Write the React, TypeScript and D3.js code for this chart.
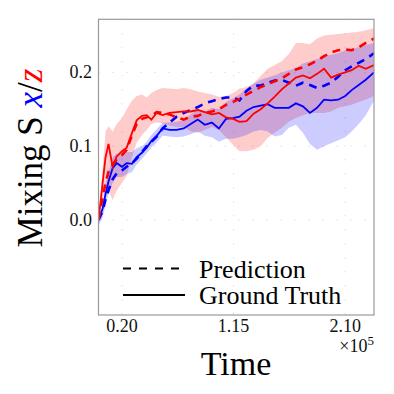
import * as d3 from 'd3';

// time in units of 1e5
const time = [0, 0.035, 0.06, 0.085, 0.12, 0.155, 0.2, 0.24, 0.285, 0.325, 0.37, 0.41, 0.45, 0.495, 0.545, 0.605, 0.665, 0.725, 0.785, 0.845, 0.905, 0.965, 1.025, 1.085, 1.145, 1.2, 1.26, 1.32, 1.38, 1.44, 1.5, 1.56, 1.62, 1.68, 1.74, 1.8, 1.86, 1.92, 1.98, 2.04, 2.1, 2.155, 2.215, 2.275, 2.345];

// z component (red)
const gtZ = [0, 0.05, 0.085, 0.103, 0.072, 0.086, 0.093, 0.098, 0.118, 0.135, 0.141, 0.142, 0.136, 0.145, 0.142, 0.145, 0.146, 0.147, 0.147, 0.149, 0.146, 0.143, 0.145, 0.139, 0.137, 0.133, 0.134, 0.144, 0.15, 0.158, 0.167, 0.177, 0.185, 0.193, 0.196, 0.192, 0.198, 0.205, 0.193, 0.197, 0.2, 0.203, 0.209, 0.205, 0.21];
const predZ = [0, 0.03, 0.05, 0.065, 0.075, 0.082, 0.088, 0.095, 0.115, 0.13, 0.137, 0.139, 0.141, 0.146, 0.145, 0.143, 0.139, 0.136, 0.14, 0.141, 0.145, 0.147, 0.15, 0.156, 0.16, 0.164, 0.17, 0.175, 0.18, 0.184, 0.188, 0.192, 0.198, 0.204, 0.207, 0.211, 0.216, 0.222, 0.227, 0.23, 0.231, 0.23, 0.234, 0.24, 0.246];
const zLow = [0, 0.03, 0.045, 0.04, 0.027, 0.04, 0.05, 0.06, 0.085, 0.105, 0.115, 0.122, 0.13, 0.132, 0.131, 0.128, 0.126, 0.126, 0.12, 0.118, 0.122, 0.126, 0.122, 0.112, 0.102, 0.093, 0.093, 0.095, 0.1, 0.111, 0.118, 0.125, 0.133, 0.138, 0.142, 0.145, 0.145, 0.145, 0.147, 0.152, 0.154, 0.156, 0.16, 0.163, 0.168];
const zHigh = [0, 0.07, 0.12, 0.127, 0.12, 0.13, 0.138, 0.15, 0.162, 0.168, 0.17, 0.166, 0.172, 0.176, 0.179, 0.178, 0.177, 0.179, 0.177, 0.174, 0.172, 0.17, 0.167, 0.168, 0.172, 0.178, 0.18, 0.185, 0.195, 0.205, 0.21, 0.215, 0.225, 0.24, 0.24, 0.238, 0.246, 0.25, 0.251, 0.252, 0.253, 0.254, 0.255, 0.257, 0.26];

// x component (blue)
const gtX = [0, 0.015, 0.035, 0.052, 0.07, 0.077, 0.072, 0.077, 0.076, 0.085, 0.091, 0.098, 0.107, 0.114, 0.124, 0.122, 0.122, 0.124, 0.13, 0.136, 0.129, 0.132, 0.124, 0.137, 0.138, 0.14, 0.148, 0.153, 0.155, 0.157, 0.152, 0.152, 0.152, 0.158, 0.154, 0.145, 0.152, 0.163, 0.162, 0.163, 0.168, 0.176, 0.183, 0.19, 0.2];
const predX = [0, 0.012, 0.028, 0.04, 0.055, 0.063, 0.067, 0.072, 0.077, 0.083, 0.092, 0.1, 0.106, 0.113, 0.124, 0.132, 0.14, 0.145, 0.149, 0.153, 0.158, 0.161, 0.164, 0.166, 0.166, 0.162, 0.175, 0.182, 0.182, 0.186, 0.189, 0.19, 0.186, 0.182, 0.186, 0.183, 0.179, 0.182, 0.186, 0.194, 0.203, 0.208, 0.213, 0.218, 0.226];
const xLow = [-0.008, 0.003, 0.02, 0.035, 0.05, 0.058, 0.058, 0.062, 0.065, 0.075, 0.083, 0.09, 0.098, 0.105, 0.114, 0.113, 0.112, 0.113, 0.116, 0.12, 0.114, 0.112, 0.106, 0.11, 0.11, 0.112, 0.115, 0.12, 0.122, 0.12, 0.113, 0.115, 0.125, 0.129, 0.118, 0.103, 0.095, 0.1, 0.104, 0.108, 0.112, 0.12, 0.13, 0.142, 0.162];
const xHigh = [0.008, 0.025, 0.048, 0.065, 0.085, 0.09, 0.087, 0.092, 0.092, 0.097, 0.1, 0.106, 0.115, 0.123, 0.132, 0.132, 0.133, 0.135, 0.143, 0.15, 0.147, 0.152, 0.15, 0.16, 0.165, 0.17, 0.178, 0.185, 0.19, 0.193, 0.196, 0.2, 0.203, 0.206, 0.212, 0.215, 0.218, 0.222, 0.224, 0.226, 0.23, 0.232, 0.234, 0.237, 0.24];

const xTicks = [0.2, 1.15, 2.1];
const yTicks = [0, 0.1, 0.2];

const RED = '#ff0000';
const BLUE = '#0000ff';
const FONT = '"Liberation Serif", "DejaVu Serif", serif';

export default function App() {
  const W = 394, H = 394;
  const left = 98.5, right = 374, top = 19.3, bottom = 315;

  const x = d3.scaleLinear().domain([0, 2.345]).range([left, right]);
  const y = d3.scaleLinear().domain([-0.129, 0.272]).range([bottom, top]);

  const line = (vals: number[]) =>
    d3.line<number>().x((_, i) => x(time[i])).y((d) => y(d))(vals) || '';
  const band = (lo: number[], hi: number[]) =>
    d3.area<number>().x((_, i) => x(time[i])).y0((_, i) => y(lo[i])).y1((_, i) => y(hi[i]))(lo) || '';

  const dash = '8,6';

  return (
    <svg width={W} height={H} style={{ position: 'absolute', left: 0, top: 0, background: '#fff' }} fontFamily={FONT}>
      <defs>
        <clipPath id="plot">
          <rect x={left} y={top} width={right - left} height={bottom - top} />
        </clipPath>
      </defs>

      {/* dotted grid */}
      {yTicks.map((t) => (
        <line key={'gy' + t} x1={left} x2={right} y1={y(t)} y2={y(t)} stroke="#cfcfcf" strokeWidth={1} strokeDasharray="1,13" />
      ))}
      {xTicks.map((t) => (
        <line key={'gx' + t} x1={x(t)} x2={x(t)} y1={top} y2={bottom} stroke="#cfcfcf" strokeWidth={1} strokeDasharray="1,13" />
      ))}

      <g clipPath="url(#plot)">
        <path d={band(zLow, zHigh)} fill={RED} fillOpacity={0.2} />
        <path d={band(xLow, xHigh)} fill={BLUE} fillOpacity={0.2} />

        <path d={line(gtX)} fill="none" stroke={BLUE} strokeWidth={1.8} />
        <path d={line(predX)} fill="none" stroke={BLUE} strokeWidth={2.6} strokeDasharray={dash} />
        <path d={line(gtZ)} fill="none" stroke={RED} strokeWidth={1.8} />
        <path d={line(predZ)} fill="none" stroke={RED} strokeWidth={2.6} strokeDasharray={dash} />
      </g>

      <rect x={left} y={top} width={right - left} height={bottom - top} fill="none" stroke="#999" strokeWidth={1.2} />

      {/* tick labels */}
      {xTicks.map((t) => (
        <text key={'tx' + t} x={x(t)} y={332} textAnchor="middle" fontSize={18} fill="#111">
          {t.toFixed(2)}
        </text>
      ))}
      {yTicks.map((t) => (
        <text key={'ty' + t} x={92} y={y(t) + 6} textAnchor="end" fontSize={18} fill="#111">
          {t.toFixed(1)}
        </text>
      ))}
      <text x={374} y={352} textAnchor="end" fontSize={18} fill="#111">
        ×10<tspan dy={-7} fontSize={13}>5</tspan>
      </text>

      {/* legend */}
      <line x1={123} x2={185} y1={268.5} y2={268.5} stroke="#000" strokeWidth={2} strokeDasharray="8,8" />
      <text x={199} y={277.5} fontSize={26} fill="#000">Prediction</text>
      <line x1={123} x2={185} y1={295} y2={295} stroke="#000" strokeWidth={2} />
      <text x={199} y={304} fontSize={26} fill="#000">Ground Truth</text>

      {/* axis titles */}
      <text x={236} y={375} textAnchor="middle" fontSize={34} fill="#000">Time</text>
      <text transform="translate(42,158) rotate(-90)" textAnchor="middle" fontSize={35} fill="#000">
        Mixing S <tspan fill={BLUE} fontStyle="italic">x</tspan>/<tspan fill={RED} fontStyle="italic">z</tspan>
      </text>
    </svg>
  );
}
